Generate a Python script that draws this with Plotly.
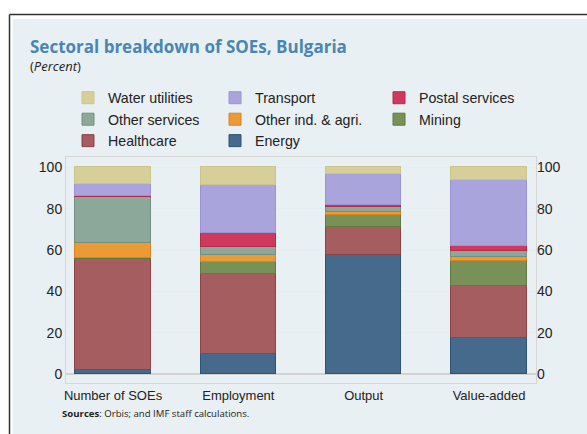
import plotly.graph_objects as go

# ---- data ----
categories = ["Number of SOEs", "Employment", "Output", "Value-added"]
energy = [2.2, 9.8, 57.6, 17.4]
healthcare = [53.5, 38.7, 13.6, 25.3]
mining = [0.3, 5.8, 5.8, 12.1]
other_ind = [7.3, 3.2, 1.3, 2.1]
other_services = [22.4, 3.9, 2.4, 2.6]
postal = [0.3, 7.0, 1.1, 2.4]
transport = [6.0, 23.1, 15.0, 32.1]
water = [8.2, 8.5, 3.2, 6.1]
y_ticks = [0, 20, 40, 60, 80, 100]

series = [
    ("Energy", energy, "#466A8C", "#2F5274", "legend2"),
    ("Healthcare", healthcare, "#A55D5F", "#8C4347", "legend"),
    ("Mining", mining, "#779157", "#5E7A40", "legend3"),
    ("Other ind. & agri.", other_ind, "#EC9A35", "#D9841F", "legend2"),
    ("Other services", other_services, "#8CA89B", "#72907F", "legend"),
    ("Postal services", postal, "#CD3A5D", "#B82A4A", "legend3"),
    ("Transport", transport, "#A9A4DC", "#9A94D4", "legend2"),
    ("Water utilities", water, "#D6CF9A", "#CCC48A", "legend"),
]

W, H = 587, 434
L, R, T, B = 66, 51, 157, 51
PW, PH = W - L - R, H - T - B


def px(x):
    return (x - L) / PW


def py(y):
    return (H - B - y) / PH


fig = go.Figure()
for name, vals, col, lcol, leg in series:
    fig.add_trace(go.Bar(
        x=list(range(len(categories))), y=vals, name=name,
        marker=dict(color=col, line=dict(color=lcol, width=1)),
        width=0.6, legend=leg,
    ))

fig.add_trace(go.Scatter(x=[0], y=[0], yaxis="y2", showlegend=False,
                         mode="markers", marker=dict(opacity=0), hoverinfo="skip"))

tickfont = dict(family="Liberation Sans, Arial", size=14, color="#222")
fig.update_layout(
    width=W, height=H,
    margin=dict(l=L, r=R, t=T, b=B),
    paper_bgcolor="white",
    plot_bgcolor="white",
    barmode="stack",
    bargap=0,
    xaxis=dict(
        tickvals=list(range(len(categories))), ticktext=categories,
        range=[-0.375, 3.375], showgrid=False, ticks="",
        tickfont=dict(family="Liberation Sans, Arial", size=13, color="#222"),
        showline=True, mirror=True, linecolor="#D6D6D6", linewidth=1,
        zeroline=False,
    ),
    yaxis=dict(
        range=[-4.2, 105], tickvals=y_ticks, ticks="",
        showgrid=True, gridcolor="#E6EDF1", gridwidth=1,
        zeroline=True, zerolinecolor="#D2D2D2", zerolinewidth=2,
        tickfont=tickfont, showline=True, mirror=True,
        linecolor="#D6D6D6", linewidth=1,
    ),
    yaxis2=dict(
        range=[-4.2, 105], tickvals=y_ticks, ticks="", overlaying="y",
        side="right", showgrid=False, zeroline=False, tickfont=tickfont,
    ),
    showlegend=True,
)

legend_common = dict(
    orientation="v", traceorder="reversed", yanchor="top", xanchor="left",
    bgcolor="rgba(0,0,0,0)", borderwidth=0,
    font=dict(family="Liberation Sans, Arial", size=14.2, color="#222"),
    y=py(82),
)
fig.update_layout(
    legend=dict(x=px(68), **legend_common),
    legend2=dict(x=px(215), **legend_common),
    legend3=dict(x=px(379), **legend_common),
)

# background panel and border
fig.add_shape(type="rect", xref="paper", yref="paper",
              x0=px(13), x1=px(600), y0=py(445), y1=py(19),
              fillcolor="#E9F0F3", line=dict(width=0), layer="below")
fig.add_shape(type="line", xref="paper", yref="paper",
              x0=px(9.5), x1=px(600), y0=py(14.5), y1=py(14.5),
              line=dict(color="#333", width=1.5))
fig.add_shape(type="line", xref="paper", yref="paper",
              x0=px(9.5), x1=px(9.5), y0=py(14.5), y1=py(445),
              line=dict(color="#333", width=1.5))

fig.add_annotation(xref="paper", yref="paper", x=px(28), y=py(47),
                   xanchor="left", yanchor="middle", showarrow=False,
                   text="<b>Sectoral breakdown of SOEs, Bulgaria</b>",
                   font=dict(family="Open Sans", size=17, color="#4A86B4"))
fig.add_annotation(xref="paper", yref="paper", x=px(28), y=py(66),
                   xanchor="left", yanchor="middle", showarrow=False,
                   text="(<i>Percent</i>)",
                   font=dict(family="Open Sans", size=13, color="#222"))
fig.add_annotation(xref="paper", yref="paper", x=px(60), y=py(413),
                   xanchor="left", yanchor="middle", showarrow=False,
                   text="<b>Sources</b>: Orbis; and IMF staff calculations.",
                   font=dict(family="Open Sans", size=9.6, color="#222"))

fig.write_html("out.html",
               config={"displayModeBar": False},
               post_script="document.body.style.margin='0';"
                           "document.body.style.overflow='hidden';")
